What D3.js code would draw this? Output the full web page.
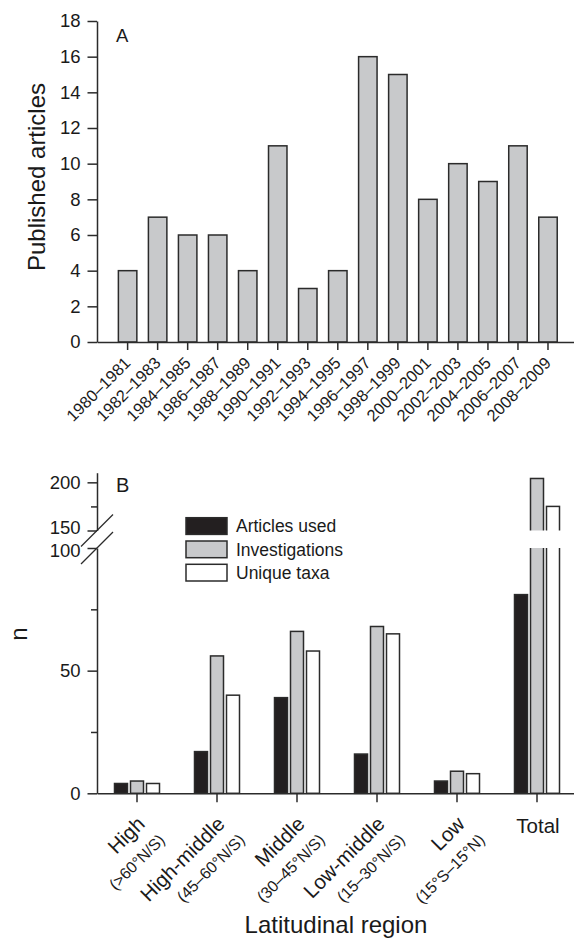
<!DOCTYPE html>
<html>
<head>
<meta charset="utf-8">
<script src="https://cdn.jsdelivr.net/npm/d3@7"></script>
<style>
    body { margin: 0; background: #fff; }
    svg { display: block; }
    text { font-family: 'Liberation Sans', Arial, sans-serif; fill: #1a1a1a; }
    .axis path, .axis line { stroke: #2b2b2b; stroke-width: 1.5px; }
</style>
</head>
<body>
<svg id="chart" width="574" height="942"></svg>
<script>
// Panel A data
const periods = ['1980–1981', '1982–1983', '1984–1985', '1986–1987', '1988–1989',
    '1990–1991', '1992–1993', '1994–1995', '1996–1997', '1998–1999',
    '2000–2001', '2002–2003', '2004–2005', '2006–2007', '2008–2009'];
const publishedArticles = [4, 7, 6, 6, 4, 11, 3, 4, 16, 15, 8, 10, 9, 11, 7];
const yTicksA = [0, 2, 4, 6, 8, 10, 12, 14, 16, 18];

// Panel B data
const regions = ['High', 'High-middle', 'Middle', 'Low-middle', 'Low', 'Total'];
const regionRanges = ['(>60°N/S)', '(45–60°N/S)', '(30–45°N/S)', '(15–30°N/S)', '(15°S–15°N)', ''];
const seriesNames = ['Articles used', 'Investigations', 'Unique taxa'];
const articlesUsed = [4, 17, 39, 16, 5, 81];
const investigations = [5, 56, 66, 68, 9, 204];
const uniqueTaxa = [4, 40, 58, 65, 8, 175];
const yTicksBLow = [0, 25, 50, 75, 100];
const yTicksBHigh = [150, 175, 200];

const seriesColors = ['#231f20', '#c8c9cb', '#ffffff'];
const barStroke = '#2b2b2b';

const svg = d3.select('#chart');
svg.append('rect').attr('width', 574).attr('height', 942).attr('fill', '#fff');

// ---------- Panel A ----------
const xA = d3.scaleBand()
    .domain(periods)
    .range([97, 578.6])
    .paddingInner(0.385)
    .paddingOuter(0.712);
const yA = d3.scaleLinear().domain([0, 18]).range([342, 21]);

const gA = svg.append('g').attr('class', 'panel-a');

gA.selectAll('.bar-a')
    .data(publishedArticles)
    .join('rect')
        .attr('class', 'bar-a')
        .attr('x', (d, i) => xA(periods[i]))
        .attr('y', d => yA(d))
        .attr('width', xA.bandwidth())
        .attr('height', d => yA(0) - yA(d))
        .attr('fill', '#c8c9cb')
        .attr('stroke', barStroke)
        .attr('stroke-width', 1.5);

const yAxisA = gA.append('g')
    .attr('class', 'axis')
    .attr('transform', 'translate(97,0)')
    .call(d3.axisLeft(yA).tickValues(yTicksA).tickSize(9.5).tickSizeOuter(0).tickPadding(7));
yAxisA.selectAll('text').style('font-size', '18.5px');

const xAxisA = gA.append('g')
    .attr('class', 'axis')
    .attr('transform', 'translate(0,342)')
    .call(d3.axisBottom(xA).tickSize(8).tickSizeOuter(0));
xAxisA.selectAll('text')
    .style('font-size', '16.5px')
    .style('text-anchor', 'end')
    .attr('y', 0)
    .attr('dy', 0)
    .attr('transform', 'translate(4,22) rotate(-45)');

gA.append('text')
    .attr('transform', 'translate(45,177) rotate(-90)')
    .attr('text-anchor', 'middle')
    .style('font-size', '24px')
    .text('Published articles');

gA.append('text')
    .attr('x', 116)
    .attr('y', 42)
    .style('font-size', '18.5px')
    .text('A');

// ---------- Panel B ----------
const xB = d3.scaleBand().domain(regions).range([97, 577]);
const xInner = d3.scaleBand().domain(seriesNames).range([0, 45]).paddingInner(0.1875);
const yLow = d3.scaleLinear().domain([0, 100]).range([793.3, 548]);
const yHigh = d3.scaleLinear().domain([150, 210]).range([530.5, 472.7]);
const yB = v => v <= 100 ? yLow(v) : yHigh(v);

const gB = svg.append('g').attr('class', 'panel-b');

const seriesValues = [articlesUsed, investigations, uniqueTaxa];
const barData = [];
regions.forEach((r, i) => {
    seriesNames.forEach((s, j) => {
        barData.push({ region: r, series: s, value: seriesValues[j][i], k: j });
    });
});
const barX = d => xB(d.region) + xB.bandwidth() / 2 - 22.5 + xInner(d.series);

gB.selectAll('.bar-b')
    .data(barData)
    .join('rect')
        .attr('class', 'bar-b')
        .attr('x', barX)
        .attr('y', d => yB(d.value))
        .attr('width', xInner.bandwidth())
        .attr('height', d => yLow(0) - yB(d.value))
        .attr('fill', d => seriesColors[d.k])
        .attr('stroke', barStroke)
        .attr('stroke-width', 1.5);

// gap in the bars that cross the axis break
gB.selectAll('.bar-gap')
    .data(barData.filter(d => d.value > 100))
    .join('rect')
        .attr('class', 'bar-gap')
        .attr('x', d => barX(d) - 2)
        .attr('y', yHigh(150))
        .attr('width', xInner.bandwidth() + 4)
        .attr('height', yLow(100) - yHigh(150))
        .attr('fill', '#fff');

const yAxisLow = gB.append('g')
    .attr('class', 'axis')
    .attr('transform', 'translate(97,0)')
    .call(d3.axisLeft(yLow).tickValues(yTicksBLow).tickSize(9.5).tickSizeOuter(0).tickPadding(7)
        .tickFormat(d => d % 50 ? '' : d));
const yAxisHigh = gB.append('g')
    .attr('class', 'axis')
    .attr('transform', 'translate(97,0)')
    .call(d3.axisLeft(yHigh).tickValues(yTicksBHigh).tickSize(9.5).tickSizeOuter(0).tickPadding(7)
        .tickFormat(d => d % 50 ? '' : d));
[yAxisLow, yAxisHigh].forEach(ax => {
    ax.selectAll('text').style('font-size', '18.5px');
    ax.selectAll('.tick').filter(d => d % 50).select('line').attr('x2', -6);
});
// the labels either side of the break sit close together
yAxisHigh.selectAll('.tick').filter(d => d === 150).select('text').attr('y', -2.5);
yAxisLow.selectAll('.tick').filter(d => d === 100).select('text').attr('y', 2.5);

// break marks
gB.selectAll('.break-mark')
    .data([yHigh(150), yLow(100)])
    .join('line')
        .attr('class', 'break-mark')
        .attr('x1', 81)
        .attr('x2', 113)
        .attr('y1', d => d + 16)
        .attr('y2', d => d - 16)
        .attr('stroke', barStroke)
        .attr('stroke-width', 1.2);

const xAxisB = gB.append('g')
    .attr('class', 'axis')
    .attr('transform', 'translate(0,793.3)')
    .call(d3.axisBottom(xB).tickSize(9).tickSizeOuter(0));
xAxisB.selectAll('text').remove();

const labelsB = xAxisB.selectAll('.tick').append('g')
    .attr('transform', (d, i) => i < 5 ? 'translate(9,32) rotate(-45)' : 'translate(1,40)');
labelsB.append('text')
    .attr('text-anchor', (d, i) => i < 5 ? 'end' : 'middle')
    .style('font-size', '20.5px')
    .text(d => d);
labelsB.append('text')
    .attr('x', 3)
    .attr('y', 25)
    .attr('text-anchor', 'end')
    .style('font-size', '16px')
    .text((d, i) => regionRanges[i]);

gB.append('text')
    .attr('x', 336)
    .attr('y', 933)
    .attr('text-anchor', 'middle')
    .style('font-size', '24px')
    .text('Latitudinal region');

gB.append('text')
    .attr('transform', 'translate(27,634) rotate(-90)')
    .attr('text-anchor', 'middle')
    .style('font-size', '24px')
    .text('n');

gB.append('text')
    .attr('x', 116)
    .attr('y', 492)
    .style('font-size', '20px')
    .text('B');

// legend
const legend = gB.selectAll('.legend')
    .data(seriesNames)
    .join('g')
        .attr('class', 'legend')
        .attr('transform', (d, i) => `translate(186,${517.7 + i * 23.3})`);
legend.append('rect')
    .attr('width', 41)
    .attr('height', 16.7)
    .attr('fill', (d, i) => seriesColors[i])
    .attr('stroke', barStroke)
    .attr('stroke-width', 1.5);
legend.append('text')
    .attr('x', 50)
    .attr('y', 14.6)
    .style('font-size', '17.5px')
    .text(d => d);
</script>
</body>
</html>
